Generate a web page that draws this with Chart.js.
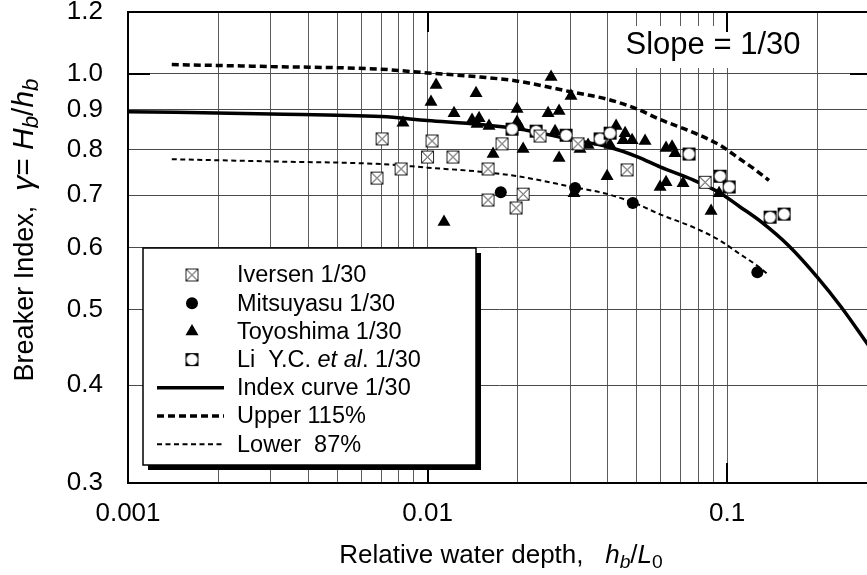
<!DOCTYPE html>
<html>
<head>
<meta charset="utf-8">
<title>Breaker index, slope 1/30</title>
<script src="https://cdn.jsdelivr.net/npm/chart.js@4.4.1/dist/chart.umd.min.js"></script>
<style>
  html, body { margin: 0; padding: 0; background: #fff; overflow: hidden; }
  #wrap { width: 870px; height: 575px; }
</style>
</head>
<body>
<div id="wrap"><canvas id="breakerChart" width="870" height="575"></canvas></div>
<script>
// measured breaker index against relative depth, beach slope 1/30
const iversenX = [0.00705, 0.00678, 0.00816, 0.01035, 0.0100, 0.01216, 0.01773, 0.01592,
                  0.01592, 0.02085, 0.01975, 0.02374, 0.0318, 0.04637, 0.08444];
const iversenY = [0.826, 0.736, 0.756, 0.821, 0.783, 0.783, 0.814, 0.756,
                  0.690, 0.702, 0.674, 0.833, 0.814, 0.754, 0.727];

const mitsuyasuX = [0.01756, 0.03109, 0.04844, 0.1262];
const mitsuyasuY = [0.706, 0.715, 0.684, 0.558];

const toyoshimaX = [0.00828, 0.01068, 0.01027, 0.01452, 0.01226, 0.01408, 0.01486, 0.01463,
                    0.01604, 0.01655, 0.01135, 0.01990, 0.01990, 0.02036, 0.02085, 0.02585,
                    0.03013, 0.02526, 0.02749, 0.02665, 0.02749, 0.03084, 0.03229, 0.03435,
                    0.03976, 0.04261, 0.04069, 0.04566, 0.04497, 0.04818, 0.05324, 0.06255,
                    0.06551, 0.06704, 0.05974, 0.06255, 0.07129, 0.09404, 0.08843];
const toyoshimaY = [0.866, 0.968, 0.921, 0.945, 0.891, 0.873, 0.878, 0.863,
                    0.858, 0.790, 0.647, 0.902, 0.868, 0.855, 0.802, 0.991,
                    0.937, 0.891, 0.897, 0.845, 0.781, 0.704, 0.802, 0.811,
                    0.740, 0.858, 0.811, 0.840, 0.823, 0.823, 0.821, 0.804,
                    0.807, 0.792, 0.717, 0.727, 0.725, 0.704, 0.668];

const liX = [0.01915, 0.02303, 0.02901, 0.03767, 0.04069, 0.07464, 0.09476, 0.1016, 0.1392, 0.1550];
const liY = [0.850, 0.845, 0.835, 0.826, 0.840, 0.790, 0.740, 0.717, 0.656, 0.662];

// index curve and its 115% / 87% envelopes
const indexX = [0.001, 0.003, 0.007, 0.01, 0.015, 0.02, 0.03, 0.04, 0.05, 0.06,
                0.077, 0.095, 0.11, 0.13, 0.16, 0.2, 0.24, 0.3];
const indexY = [0.895, 0.889, 0.882, 0.872, 0.862, 0.851, 0.825, 0.807, 0.784, 0.760,
                0.732, 0.704, 0.677, 0.647, 0.604, 0.550, 0.504, 0.447];

const bandX = [0.0014, 0.003, 0.007, 0.01, 0.015, 0.02, 0.03, 0.04, 0.05, 0.06,
               0.077, 0.095, 0.11, 0.125, 0.138];
const upperY = [1.028, 1.022, 1.014, 1.003, 0.991, 0.979, 0.949, 0.928, 0.902, 0.874,
                0.842, 0.810, 0.779, 0.753, 0.731];
const lowerY = [0.778, 0.773, 0.767, 0.759, 0.750, 0.740, 0.718, 0.702, 0.682, 0.661,
                0.637, 0.612, 0.589, 0.570, 0.553];

// axes
const xTicks = [0.001, 0.002, 0.003, 0.004, 0.005, 0.006, 0.007, 0.008, 0.009,
                0.01, 0.02, 0.03, 0.04, 0.05, 0.06, 0.07, 0.08, 0.09, 0.1, 0.2, 0.3];
const xMajorTicks = [0.001, 0.01, 0.1];
const xMajorLabels = ['0.001', '0.01', '0.1'];
const yTicks = [0.3, 0.4, 0.5, 0.6, 0.7, 0.8, 0.9, 1.0, 1.2];
const yTickLabels = ['0.3', '0.4', '0.5', '0.6', '0.7', '0.8', '0.9', '1.0', '1.2'];
const yMajorTicks = [1.0];

const FONT = "'Liberation Sans', Arial, Helvetica, sans-serif";

function makeMarker(kind) {
    const c = document.createElement('canvas');
    c.width = 15;
    c.height = 15;
    const g = c.getContext('2d');
    if (kind === 'boxX') {
        g.fillStyle = '#fff';
        g.fillRect(1.5, 1.5, 12, 12);
        g.strokeStyle = '#222';
        g.lineWidth = 1;
        g.strokeRect(1.5, 1.5, 12, 12);
        g.beginPath();
        g.moveTo(1.5, 1.5); g.lineTo(13.5, 13.5);
        g.moveTo(13.5, 1.5); g.lineTo(1.5, 13.5);
        g.stroke();
    } else {
        g.fillStyle = '#000';
        g.fillRect(1, 1, 13, 13);
        g.fillStyle = '#fff';
        g.beginPath();
        g.arc(7.5, 7.5, 5.6, 0, Math.PI * 2);
        g.fill();
    }
    return c;
}

const boxX = makeMarker('boxX');
const boxO = makeMarker('boxO');

const toPoints = (xs, ys) => xs.map((x, i) => ({ x: x, y: ys[i] }));

// text with italic / subscript runs, centred on cx
function drawRich(ctx, parts, size, cx, baseline) {
    const fontFor = p => {
        const s = (p.sub ? 0.74 : 1) * (p.size || size);
        return (p.it ? 'italic ' : '') + s + 'px ' + FONT;
    };
    let total = 0;
    parts.forEach(p => { ctx.font = fontFor(p); total += ctx.measureText(p.t).width; });
    let x = cx - total / 2;
    ctx.textAlign = 'left';
    ctx.textBaseline = 'alphabetic';
    parts.forEach(p => {
        ctx.font = fontFor(p);
        ctx.fillText(p.t, x, baseline + (p.sub ? size * 0.2 : 0));
        x += ctx.measureText(p.t).width;
    });
}

const legendRows = [
    { label: [{ t: 'Iversen 1/30' }], mark: 'boxX' },
    { label: [{ t: 'Mitsuyasu 1/30' }], mark: 'circle' },
    { label: [{ t: 'Toyoshima 1/30' }], mark: 'triangle' },
    { label: [{ t: 'Li  Y.C. ' }, { t: 'et al', it: true }, { t: '. 1/30' }], mark: 'boxO' },
    { label: [{ t: 'Index curve 1/30' }], line: { w: 3.5, dash: [] } },
    { label: [{ t: 'Upper 115%' }], line: { w: 3.5, dash: [7, 4] } },
    { label: [{ t: 'Lower  87%' }], line: { w: 2, dash: [5, 3.5] } }
];

function drawLegend(ctx) {
    const bx = 143, by = 248, bw = 333, bh = 217;
    ctx.save();
    ctx.fillStyle = '#000';
    ctx.fillRect(bx + 5, by + 5, bw, bh);
    ctx.fillStyle = '#fff';
    ctx.fillRect(bx, by, bw, bh);
    ctx.strokeStyle = '#000';
    ctx.lineWidth = 1.5;
    ctx.strokeRect(bx, by, bw, bh);

    legendRows.forEach((row, i) => {
        const y = by + 27 + i * 28.2;
        const sx = 192;
        ctx.fillStyle = '#000';
        if (row.line) {
            ctx.strokeStyle = '#000';
            ctx.lineWidth = row.line.w;
            ctx.setLineDash(row.line.dash);
            ctx.beginPath();
            ctx.moveTo(157, y);
            ctx.lineTo(224, y);
            ctx.stroke();
            ctx.setLineDash([]);
        } else if (row.mark === 'boxX') {
            ctx.drawImage(boxX, sx - 7.5, y - 7.5);
        } else if (row.mark === 'boxO') {
            ctx.drawImage(boxO, sx - 7.5, y - 7.5);
        } else if (row.mark === 'circle') {
            ctx.beginPath();
            ctx.arc(sx, y, 6, 0, Math.PI * 2);
            ctx.fill();
        } else if (row.mark === 'triangle') {
            const r = 7.5;
            ctx.beginPath();
            ctx.moveTo(sx, y - r);
            ctx.lineTo(sx + r * 0.866, y + r / 2);
            ctx.lineTo(sx - r * 0.866, y + r / 2);
            ctx.closePath();
            ctx.fill();
        }
        let x = 237;
        ctx.textBaseline = 'middle';
        ctx.textAlign = 'left';
        row.label.forEach(p => {
            ctx.font = (p.it ? 'italic ' : '') + '23.5px ' + FONT;
            ctx.fillText(p.t, x, y + 1);
            x += ctx.measureText(p.t).width;
        });
    });
    ctx.restore();
}

const framePlugin = {
    id: 'frame',
    beforeDatasetsDraw(chart) {
        // blank panel behind the slope note
        const ctx = chart.ctx;
        ctx.save();
        ctx.fillStyle = '#fff';
        ctx.fillRect(609, 26, 204, 42);
        ctx.restore();
    },
    afterDraw(chart) {
        const ctx = chart.ctx;
        const a = chart.chartArea;
        const xs = chart.scales.x, ys = chart.scales.y;
        ctx.save();
        ctx.strokeStyle = '#000';
        ctx.lineWidth = 2;
        ctx.beginPath();
        ctx.moveTo(a.left, a.top);
        ctx.lineTo(a.right, a.top);
        ctx.stroke();

        // decade ticks pointing inward
        ctx.beginPath();
        xMajorTicks.forEach(v => {
            const px = Math.round(xs.getPixelForValue(v));
            ctx.moveTo(px, a.bottom); ctx.lineTo(px, a.bottom - 20);
            ctx.moveTo(px, a.top); ctx.lineTo(px, a.top + 20);
        });
        yMajorTicks.forEach(v => {
            const py = Math.round(ys.getPixelForValue(v));
            ctx.moveTo(a.left, py); ctx.lineTo(a.left + 22, py);
            ctx.moveTo(a.right, py); ctx.lineTo(a.right - 20, py);
        });
        ctx.stroke();

        ctx.fillStyle = '#000';
        ctx.font = '31px ' + FONT;
        ctx.textAlign = 'center';
        ctx.textBaseline = 'middle';
        ctx.fillText('Slope = 1/30', 713, 45);

        drawLegend(ctx);

        ctx.fillStyle = '#000';
        drawRich(ctx, [
            { t: 'Relative water depth,   ' },
            { t: 'h', it: true }, { t: 'b', it: true, sub: true },
            { t: '/' },
            { t: 'L', it: true }, { t: '0', sub: true }
        ], 26, 501, 563);

        ctx.translate(33, 230);
        ctx.rotate(-Math.PI / 2);
        drawRich(ctx, [
            { t: 'Breaker Index,  ' },
            { t: 'γ', it: true, size: 30 }, { t: '= ', size: 30 },
            { t: 'H', it: true, size: 30 }, { t: 'b', it: true, sub: true, size: 30 },
            { t: '/', size: 30 },
            { t: 'h', it: true, size: 30 }, { t: 'b', it: true, sub: true, size: 30 }
        ], 27, 0, 0);
        ctx.restore();
    }
};

const ctx = document.getElementById('breakerChart').getContext('2d');

new Chart(ctx, {
    type: 'scatter',
    data: {
        datasets: [
            {
                label: 'Iversen 1/30',
                data: toPoints(iversenX, iversenY),
                pointStyle: boxX,
                pointRadius: 7
            },
            {
                label: 'Li Y.C. et al. 1/30',
                data: toPoints(liX, liY),
                pointStyle: boxO,
                pointRadius: 7
            },
            {
                label: 'Mitsuyasu 1/30',
                data: toPoints(mitsuyasuX, mitsuyasuY),
                pointStyle: 'circle',
                pointRadius: 6,
                backgroundColor: '#000',
                borderWidth: 0
            },
            {
                label: 'Toyoshima 1/30',
                data: toPoints(toyoshimaX, toyoshimaY),
                pointStyle: 'triangle',
                pointRadius: 7.5,
                backgroundColor: '#000',
                borderWidth: 0
            },
            {
                label: 'Index curve 1/30',
                type: 'line',
                data: toPoints(indexX, indexY),
                borderColor: '#000',
                borderWidth: 3.5,
                pointRadius: 0,
                cubicInterpolationMode: 'monotone',
                fill: false
            },
            {
                label: 'Upper 115%',
                type: 'line',
                data: toPoints(bandX, upperY),
                borderColor: '#000',
                borderWidth: 3.5,
                borderDash: [7, 4],
                pointRadius: 0,
                cubicInterpolationMode: 'monotone',
                fill: false
            },
            {
                label: 'Lower 87%',
                type: 'line',
                data: toPoints(bandX, lowerY),
                borderColor: '#000',
                borderWidth: 2,
                borderDash: [5, 3.5],
                pointRadius: 0,
                cubicInterpolationMode: 'monotone',
                fill: false
            }
        ]
    },
    options: {
        responsive: false,
        animation: false,
        events: [],
        layout: { autoPadding: false, padding: { top: 12, left: 0, right: 0, bottom: 0 } },
        plugins: {
            legend: { display: false },
            tooltip: { enabled: false }
        },
        scales: {
            x: {
                type: 'logarithmic',
                position: 'bottom',
                min: 0.001,
                max: 0.3,
                afterBuildTicks: s => { s.ticks = xTicks.map(v => ({ value: v })); },
                afterFit: s => { s.height = 92; s.paddingLeft = 0; s.paddingRight = 0; },
                ticks: {
                    autoSkip: false,
                    maxRotation: 0,
                    padding: 15,
                    color: '#000',
                    font: { family: FONT, size: 26 },
                    callback: v => {
                        const i = xMajorTicks.indexOf(v);
                        return i >= 0 ? xMajorLabels[i] : '';
                    }
                },
                grid: { color: '#5c5c5c', lineWidth: 1, drawTicks: false },
                border: { display: true, color: '#000', width: 2 }
            },
            y: {
                type: 'logarithmic',
                position: 'left',
                min: 0.3,
                max: 1.2,
                afterBuildTicks: s => { s.ticks = yTicks.map(v => ({ value: v })); },
                afterFit: s => { s.width = 128; s.paddingTop = 0; s.paddingBottom = 0; },
                ticks: {
                    autoSkip: false,
                    padding: 25,
                    color: '#000',
                    font: { family: FONT, size: 26 },
                    callback: v => {
                        const i = yTicks.indexOf(v);
                        return i >= 0 ? yTickLabels[i] : '';
                    }
                },
                grid: { color: '#4a4a4a', lineWidth: 1, drawTicks: false },
                border: { display: true, color: '#000', width: 2 }
            }
        }
    },
    plugins: [framePlugin]
});
</script>
</body>
</html>
